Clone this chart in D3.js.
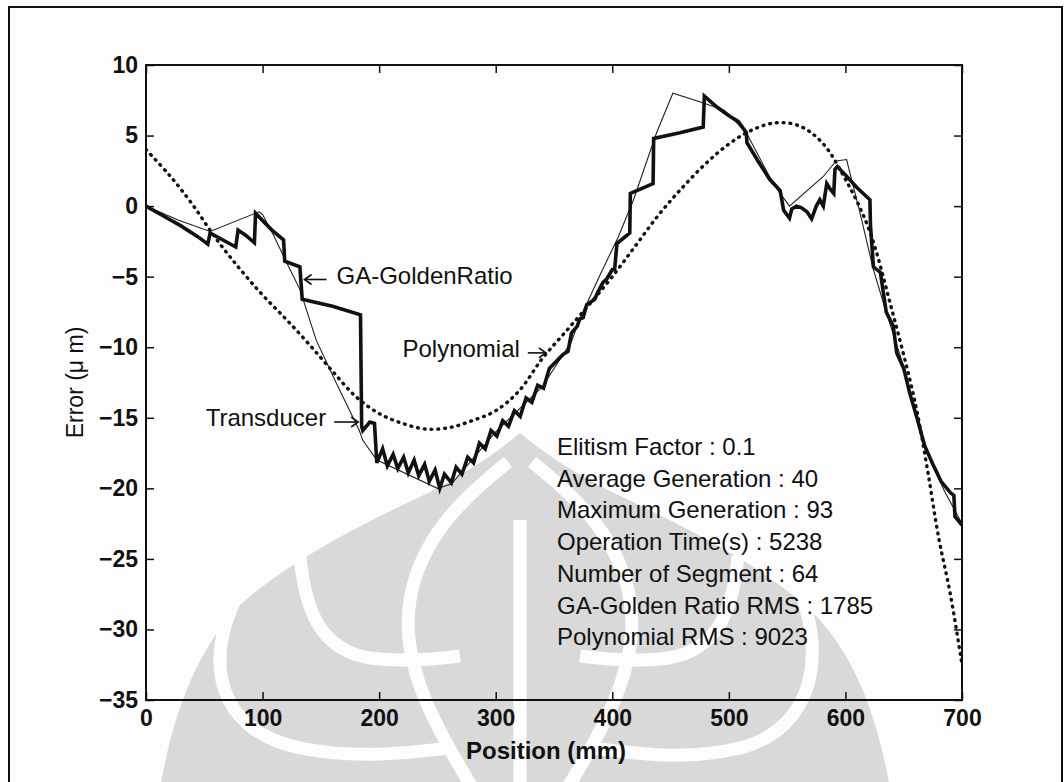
<!DOCTYPE html>
<html>
<head>
<meta charset="utf-8">
<script src="https://cdn.jsdelivr.net/npm/d3@7"></script>
<style>
  html, body { margin: 0; padding: 0; background: #fdfdfd; }
  svg { display: block; }
  text { font-family: "Liberation Sans", Arial, sans-serif; fill: #111; }
</style>
</head>
<body>
<script>
// Axis ticks
const positionTicks = [0, 100, 200, 300, 400, 500, 600, 700];
const errorTicks = [10, 5, 0, -5, -10, -15, -20, -25, -30, -35];

// Transducer measurement (thin line)
const transducerPos = [0, 28, 55, 97, 100, 109, 123, 132, 146, 163, 183, 186, 198, 250, 262, 300, 340, 365, 372, 390, 405, 418, 438, 447, 452, 475, 496, 515, 538, 544, 552, 581, 592, 601, 604, 612, 624, 636, 647, 655, 664, 672, 685, 700];
const transducerErr = [0, -1.0, -1.8, -0.4, -0.6, -2.0, -4.4, -5.9, -9.5, -12.5, -15.9, -16.6, -18.0, -20.0, -19.7, -16.0, -12.8, -9.6, -8.0, -4.8, -2.2, 0.4, 5.2, 7.0, 8.0, 7.4, 6.8, 5.2, 1.6, 0.9, 0.0, 2.1, 3.2, 3.3, 2.3, -0.3, -4.5, -7.8, -10.6, -13.0, -15.8, -17.8, -20.2, -22.5];

// GA-GoldenRatio segmented fit (thick line)
const gaPos = [0, 15, 30, 45, 53, 55, 66, 77, 79, 86, 93, 94, 101, 108, 118, 119, 132, 134, 160, 184, 185, 186, 192, 196, 198,
  203, 207, 212, 216, 221, 225, 230, 234, 239, 243, 248, 252, 256,
  262, 266, 271, 276, 281, 286, 291, 296, 301, 306, 311, 316, 321, 326, 331, 336, 341, 346, 352, 358, 362, 365, 370, 372, 375, 378, 385, 387, 392, 395, 400, 402, 404, 415, 415.5, 435, 435.5, 458, 478, 479, 490, 501, 508, 515, 515.5, 525, 535, 544, 547, 552, 554, 558, 562, 567, 571, 575, 578, 581, 584, 587, 590, 591, 593, 600, 610, 621, 621.5, 624, 630, 635, 641, 644, 650, 655, 662, 668, 675, 682, 690, 693, 694, 700];
const gaErr = [0, -0.7, -1.4, -2.2, -2.7, -1.9, -2.4, -2.9, -1.7, -2.1, -2.6, -0.5, -1.1, -1.7, -2.4, -3.9, -4.3, -6.6, -7.1, -7.7, -15.6, -15.9, -15.3, -15.4, -18.2,
  -17.2, -18.4, -17.6, -18.6, -17.8, -18.9, -18.0, -19.1, -18.3, -19.5, -18.7, -20.0, -19.0,
  -19.6, -18.5, -19.0, -17.8, -18.2, -16.8, -17.2, -15.9, -16.3, -15.2, -15.6, -14.5, -14.9, -13.6, -13.9, -12.7, -12.9, -11.5, -11.0, -10.5, -10.3, -9.0, -8.5, -8.0, -7.9, -7.0, -6.6, -6.2, -5.4, -5.2, -4.5, -4.5, -2.65, -1.9, 0.9, 1.6, 4.8, 5.2, 5.6, 7.8, 7.0, 6.35, 6.0, 5.2, 4.5, 3.2, 1.9, 1.1, -0.3, -0.85, -0.2, 0.0, -0.1, -0.4, -0.9, 0.0, 0.45, 0.0, 1.6, 1.2, 0.9, 2.6, 2.8, 2.2, 1.3, 0.45, -1.4, -4.3, -4.7, -7.5, -8.5, -10.4, -11.5, -13.2, -15.2, -17.0, -18.3, -19.5, -20.3, -20.5, -22.0, -22.6];

// Polynomial fit (dotted line)
const polyPos = [0, 20, 40, 60, 80, 100, 120, 140, 160, 180, 200, 220, 240, 260, 280, 300, 320, 340, 360, 380, 400, 420, 440, 460, 480, 500, 520, 540, 560, 580, 600, 620, 640, 660, 670, 680, 690, 700];
const polyErr = [4.0, 2.2, 0.1, -2.3, -4.4, -6.3, -8.0, -9.8, -11.7, -13.5, -14.7, -15.4, -15.8, -15.7, -15.2, -14.5, -13.1, -10.8, -8.9, -7.0, -5.0, -2.8, -0.6, 1.3, 3.0, 4.4, 5.4, 5.9, 5.7, 4.5, 1.9, -1.6, -7.4, -14.0, -18.5, -23.5, -27.5, -32.5];

// Run summary
const summaryLines = [
  "Elitism Factor : 0.1",
  "Average Generation : 40",
  "Maximum Generation : 93",
  "Operation Time(s) : 5238",
  "Number of Segment : 64",
  "GA-Golden Ratio RMS : 1785",
  "Polynomial RMS : 9023"
];

const W = 1064, H = 782;
const plot = { left: 146, right: 962, top: 65, bottom: 700 };

const svg = d3.select("body").append("svg")
  .attr("width", W).attr("height", H);

svg.append("rect").attr("width", W).attr("height", H).attr("fill", "#fdfdfd");

// Faint emblem in the background: pointed dome with curled petals
const emblem = svg.append("g").attr("class", "emblem");
emblem.append("path")
  .attr("d", "M520,433 C500,450 468,472 430,492 C360,525 290,560 240,605 C198,648 172,712 158,800 L892,800 C878,712 852,648 805,605 C752,560 682,525 612,492 C572,472 540,450 520,433 Z")
  .attr("fill", "#d9d9d9");
const bands = [
  "M236,598 C205,660 215,730 300,748 C360,760 410,752 450,748",
  "M300,556 C305,610 320,650 370,658 C400,662 430,660 460,656",
  "M800,590 C825,655 815,728 740,748 C680,762 630,752 590,748",
  "M738,556 C733,610 718,650 668,658 C640,662 610,660 580,656",
  "M508,462 C460,500 420,540 410,600 C400,660 430,720 480,800",
  "M532,462 C580,500 620,540 630,600 C640,660 610,720 560,800",
  "M520,520 L520,800"
];
emblem.selectAll("path.band").data(bands).join("path")
  .attr("class", "band")
  .attr("d", d => d)
  .attr("fill", "none")
  .attr("stroke", "#fdfdfd")
  .attr("stroke-width", 13);

// Outer frame
svg.append("rect")
  .attr("x", 9).attr("y", 7).attr("width", 1053).attr("height", 800)
  .attr("fill", "none").attr("stroke", "#111").attr("stroke-width", 2);

const x = d3.scaleLinear().domain([0, 700]).range([plot.left, plot.right]);
const y = d3.scaleLinear().domain([-35, 10]).range([plot.bottom, plot.top]);

// Axes with inward ticks on all four sides
const tickFont = g => g.selectAll("text")
  .style("font-family", "'Liberation Sans', Arial, sans-serif")
  .style("font-size", "23px").style("font-weight", "bold").attr("fill", "#111");

svg.append("g").attr("transform", `translate(0,${plot.bottom})`)
  .call(d3.axisBottom(x).tickValues(positionTicks).tickSizeInner(-8).tickSizeOuter(0).tickPadding(10))
  .call(g => g.select(".domain").remove())
  .call(g => g.selectAll("line").attr("stroke", "#111").attr("stroke-width", 1.5))
  .call(tickFont);

svg.append("g").attr("transform", `translate(${plot.left},0)`)
  .call(d3.axisLeft(y).tickValues(errorTicks).tickSizeInner(-8).tickSizeOuter(0).tickPadding(8))
  .call(g => g.select(".domain").remove())
  .call(g => g.selectAll("line").attr("stroke", "#111").attr("stroke-width", 1.5))
  .call(tickFont);

svg.append("g").attr("transform", `translate(0,${plot.top})`)
  .call(d3.axisTop(x).tickValues(positionTicks).tickSizeInner(-8).tickSizeOuter(0).tickFormat(""))
  .call(g => g.select(".domain").remove())
  .call(g => g.selectAll("line").attr("stroke", "#111").attr("stroke-width", 1.5));

svg.append("g").attr("transform", `translate(${plot.right},0)`)
  .call(d3.axisRight(y).tickValues(errorTicks).tickSizeInner(-8).tickSizeOuter(0).tickFormat(""))
  .call(g => g.select(".domain").remove())
  .call(g => g.selectAll("line").attr("stroke", "#111").attr("stroke-width", 1.5));

// Plot box
svg.append("rect")
  .attr("x", plot.left).attr("y", plot.top)
  .attr("width", plot.right - plot.left).attr("height", plot.bottom - plot.top)
  .attr("fill", "none").attr("stroke", "#111").attr("stroke-width", 2);

const zip = (xs, ys) => xs.map((v, i) => [v, ys[i]]);

svg.append("clipPath").attr("id", "plotClip")
  .append("rect").attr("x", plot.left).attr("y", plot.top)
  .attr("width", plot.right - plot.left).attr("height", plot.bottom - plot.top);
const series = svg.append("g").attr("clip-path", "url(#plotClip)");

// Polynomial: dense round dots
series.append("path")
  .datum(zip(polyPos, polyErr))
  .attr("d", d3.line().x(d => x(d[0])).y(d => y(d[1])).curve(d3.curveCatmullRom.alpha(0.5)))
  .attr("fill", "none").attr("stroke", "#111")
  .attr("stroke-width", 3.4).attr("stroke-linecap", "round")
  .attr("stroke-dasharray", "0.8,6");

// Transducer: thin line
series.append("path")
  .datum(zip(transducerPos, transducerErr))
  .attr("d", d3.line().x(d => x(d[0])).y(d => y(d[1])))
  .attr("fill", "none").attr("stroke", "#222").attr("stroke-width", 1.1);

// GA-GoldenRatio: thick line
series.append("path")
  .datum(zip(gaPos, gaErr))
  .attr("d", d3.line().x(d => x(d[0])).y(d => y(d[1])))
  .attr("fill", "none").attr("stroke", "#111").attr("stroke-width", 3.6)
  .attr("stroke-linejoin", "miter");

// Labels with arrows pointing at the curves
function arrow(tipX, tipY, dir, len) {
  const tailX = tipX + dir * len;
  const g = svg.append("g").attr("stroke", "#111").attr("stroke-width", 1.6).attr("fill", "none");
  g.append("line").attr("x1", tailX).attr("y1", tipY).attr("x2", tipX).attr("y2", tipY);
  g.append("polyline").attr("points",
    `${tipX + dir * 7},${tipY - 5} ${tipX},${tipY} ${tipX + dir * 7},${tipY + 5}`);
}
const annoFont = s => s.style("font-size", "24px").attr("fill", "#111");

arrow(x(136), y(-5.2), 1, 22);
svg.append("text").attr("x", x(136) + 32).attr("y", y(-5.2) + 5).call(annoFont).text("GA-GoldenRatio");

arrow(x(182), y(-15.3), -1, 24);
svg.append("text").attr("x", x(182) - 32).attr("y", y(-15.3) + 4).attr("text-anchor", "end")
  .call(annoFont).text("Transducer");

arrow(x(343), y(-10.4), -1, 18);
svg.append("text").attr("x", x(343) - 26).attr("y", y(-10.4) + 4).attr("text-anchor", "end")
  .call(annoFont).text("Polynomial");

svg.append("g").selectAll("text").data(summaryLines).join("text")
  .attr("x", 557).attr("y", (d, i) => 455 + i * 31.7)
  .call(annoFont)
  .text(d => d);

// Axis titles
svg.append("text")
  .attr("x", (plot.left + plot.right) / 2 - 8).attr("y", 759)
  .attr("text-anchor", "middle")
  .style("font-size", "24px").style("font-weight", "bold")
  .text("Position (mm)");

svg.append("text")
  .attr("transform", `translate(83,${(plot.top + plot.bottom) / 2}) rotate(-90)`)
  .attr("text-anchor", "middle")
  .style("font-size", "23px")
  .text("Error (\u03bc m)");
</script>
</body>
</html>
